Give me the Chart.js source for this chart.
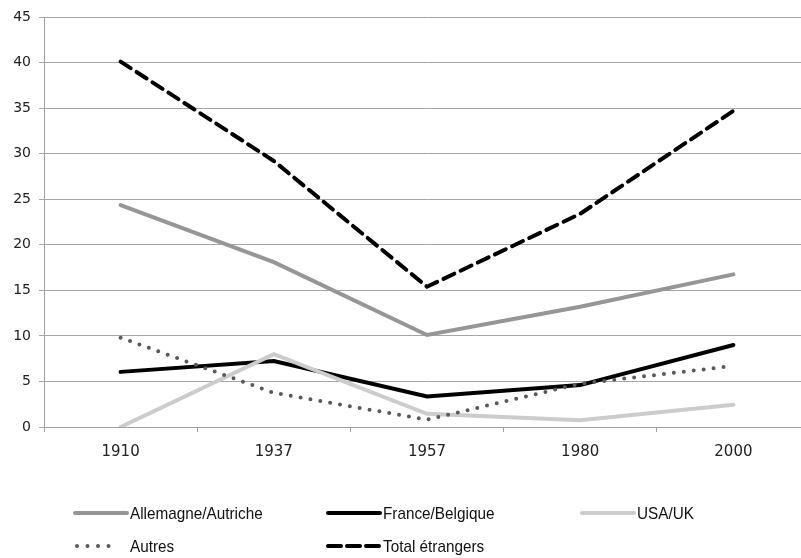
<!DOCTYPE html>
<html>
<head>
<meta charset="utf-8">
<script src="https://cdn.jsdelivr.net/npm/chart.js@4/dist/chart.umd.min.js"></script>
<style>
html,body{margin:0;padding:0;background:#fff;overflow:hidden;}
#wrap{position:relative;width:810px;height:558px;}
</style>
</head>
<body>
<div id="wrap"><canvas id="c" width="810" height="558"></canvas></div>
<script>
const years = ['1910', '1937', '1957', '1980', '2000'];
const allemagneAutriche = [24.35, 18.1, 10.1, 13.2, 16.75];
const franceBelgique = [6.05, 7.25, 3.35, 4.6, 9.0];
const usaUk = [0, 8.0, 1.45, 0.75, 2.45];
const autres = [9.8, 3.75, 0.8, 4.75, 6.7];
const totalEtrangers = [40.1, 29.2, 15.4, 23.4, 34.7];
const yTicks = [0, 5, 10, 15, 20, 25, 30, 35, 40, 45];

const legendFont = "17px 'Liberation Sans', Arial, sans-serif";

const legendPlugin = {
  id: 'customLegend',
  afterDraw(chart) {
    const ctx = chart.ctx;
    const slots = [
      {x: 75, y: 513}, {x: 328, y: 513}, {x: 582, y: 513},
      {x: 75, y: 546}, {x: 328, y: 546}
    ];
    chart.data.datasets.forEach((ds, i) => {
      const s = slots[i];
      ctx.save();
      ctx.strokeStyle = ds.borderColor;
      ctx.lineWidth = ds.borderWidth;
      ctx.lineCap = ds.borderCapStyle || 'butt';
      ctx.setLineDash(ds.legendDash || ds.borderDash || []);
      ctx.beginPath();
      if (ds.legendDots) {
        ctx.moveTo(s.x + 2, s.y);
        ctx.lineTo(s.x + 44, s.y);
      } else {
        ctx.moveTo(s.x, s.y);
        ctx.lineTo(s.x + 52, s.y);
      }
      ctx.stroke();
      ctx.setLineDash([]);
      ctx.fillStyle = '#111';
      ctx.font = legendFont;
      ctx.textBaseline = 'middle';
      ctx.textAlign = 'left';
      ctx.translate(s.x + 55, s.y + 1);
      ctx.scale(0.9, 1);
      ctx.fillText(ds.label, 0, 0);
      ctx.restore();
    });
  }
};

new Chart(document.getElementById('c'), {
  type: 'line',
  data: {
    labels: years,
    datasets: [
      {label: 'Allemagne/Autriche', data: allemagneAutriche, borderColor: '#969696', borderWidth: 4, borderCapStyle: 'round', order: 4},
      {label: 'France/Belgique', data: franceBelgique, borderColor: '#000000', borderWidth: 4, borderCapStyle: 'round', order: 3},
      {label: 'USA/UK', data: usaUk, borderColor: '#cccccc', borderWidth: 4, borderCapStyle: 'round', order: 2},
      {label: 'Autres', data: autres, borderColor: '#595959', borderWidth: 4, borderDash: [0, 10], legendDash: [0, 10.5], borderCapStyle: 'round', legendDots: true, order: 1},
      {label: 'Total étrangers', data: totalEtrangers, borderColor: '#000000', borderWidth: 4, borderDash: [12, 7], legendDash: [13, 6], borderCapStyle: 'round', order: 0}
    ]
  },
  options: {
    responsive: false,
    animation: false,
    devicePixelRatio: 1,
    layout: {padding: {top: 17, left: 0, right: 0, bottom: 96}},
    elements: {
      point: {radius: 0, hoverRadius: 0},
      line: {tension: 0, borderJoinStyle: 'miter'}
    },
    plugins: {legend: {display: false}, tooltip: {enabled: false}},
    scales: {
      x: {
        offset: true,
        grid: {offset: true, drawOnChartArea: false, drawTicks: true, tickLength: 5, color: '#a0a0a0'},
        border: {color: '#a0a0a0', width: 1},
        ticks: {color: '#222', font: {family: "'DejaVu Sans', sans-serif", size: 15}, padding: 11, maxRotation: 0},
        afterFit(scale) { scale.height = 35; }
      },
      y: {
        min: 0, max: 45,
        afterBuildTicks(scale) { scale.ticks = yTicks.map(v => ({value: v})); },
        grid: {color: '#a6a6a6', lineWidth: 1, tickLength: 5},
        border: {color: '#a0a0a0', width: 1},
        ticks: {color: '#222', font: {family: "'DejaVu Sans', sans-serif", size: 14}, padding: 8},
        afterFit(scale) { scale.width = 44; }
      }
    }
  },
  plugins: [legendPlugin]
});
</script>
</body>
</html>
